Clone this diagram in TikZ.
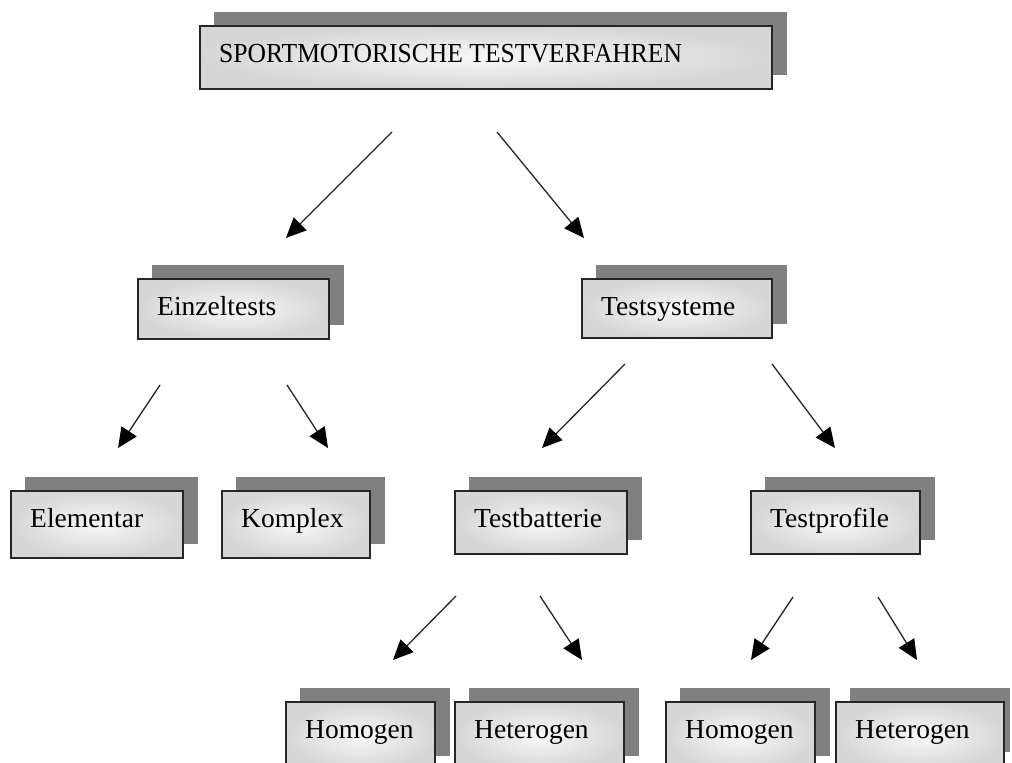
\documentclass[tikz,border=0pt]{standalone}
\usepackage{fontspec}
\setmainfont{Liberation Serif}
\usetikzlibrary{arrows.meta}
\definecolor{shadowc}{RGB}{128,128,128}
\definecolor{boxout}{RGB}{214,214,214}
\definecolor{boxin}{RGB}{248,248,248}
\tikzset{
  shadowbox/.style={fill=shadowc},
  frontbox/.style={draw=black!85, line width=1.4pt, inner color=boxin, outer color=boxout},
  lbl/.style={font=\fontsize{27.5}{30}\selectfont, inner sep=0pt, text=black},
  arr/.style={draw=black!85, line width=1.3pt, -{Triangle[length=20pt,width=18pt,fill=black,color=black]}}
}
\newcommand{\tbox}[6]{%
  \fill[shadowbox] (#2+14,#3-14) rectangle (#4+15,#5-14);
  \path[frontbox] (#2,#3) rectangle (#4,#5);
  \node[lbl,anchor=base west] (#1) at (#2+19,#3+36) {#6};
}
\begin{document}
\begin{tikzpicture}[x=1pt,y=-1pt]
\path[use as bounding box] (0,0) rectangle (1012,763);
\clip (0,0) rectangle (1012,763);
\fill[white] (0,0) rectangle (1012,763);
\tbox{top}{200}{26}{772}{89}{\scalebox{0.93}[1]{SPORTMOTORISCHE TESTVERFAHREN}}
\tbox{einz}{138}{279}{329}{339}{Einzeltests}
\tbox{tsys}{582}{279}{772}{338}{Testsysteme}
\tbox{elem}{11}{491}{183}{558}{Elementar}
\tbox{kompl}{222}{491}{370}{558}{Komplex}
\tbox{tbat}{455}{491}{627}{554}{Testbatterie}
\tbox{tprof}{751}{491}{920}{554}{Testprofile}
\tbox{homA}{286}{702}{435}{770}{Homogen}
\tbox{hetA}{455}{702}{624}{770}{Heterogen}
\tbox{homB}{666}{702}{815}{770}{Homogen}
\fill[shadowbox] (850,688) rectangle (1010,752);
\path[frontbox] (836,702) rectangle (1004,770);
\node[lbl,anchor=base west] (hetB) at (855,738) {Heterogen};
% connector end points
\coordinate (a1s) at (392,132); \coordinate (a1e) at (286,238);
\coordinate (a2s) at (497,132); \coordinate (a2e) at (584,238);
\coordinate (b1s) at (160,385); \coordinate (b1e) at (118,448);
\coordinate (b2s) at (287,385); \coordinate (b2e) at (328,448);
\coordinate (c1s) at (625,364); \coordinate (c1e) at (542,448);
\coordinate (c2s) at (772,364); \coordinate (c2e) at (835,448);
\coordinate (d1s) at (456,596); \coordinate (d1e) at (393,660);
\coordinate (d2s) at (540,596); \coordinate (d2e) at (582,660);
\coordinate (e1s) at (793,597); \coordinate (e1e) at (751,660);
\coordinate (e2s) at (878,597); \coordinate (e2e) at (917,660);
\foreach \p in {a1,a2,b1,b2,c1,c2,d1,d2,e1,e2}{\draw[arr] (\p s) -- (\p e);}
\end{tikzpicture}
\end{document}
